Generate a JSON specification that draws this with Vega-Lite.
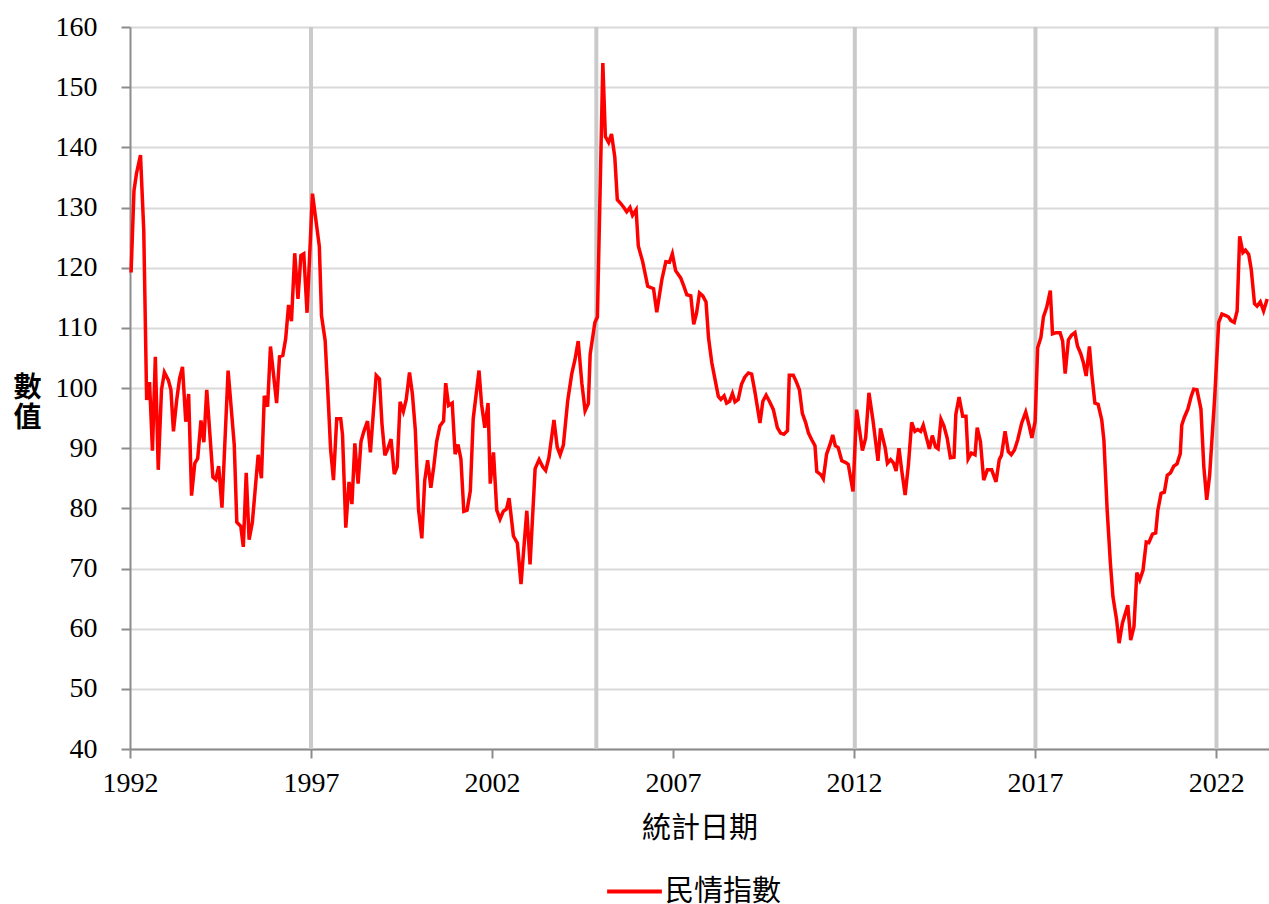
{
"$schema": "https://vega.github.io/schema/vega-lite/v6.json",
"width": 1139,
"height": 722,
"autosize": {"type": "none"},
"padding": {"left": 130, "top": 27, "right": 0, "bottom": 155},
"background": "white",
"config": {"view": {"stroke": null}},
"datasets": {
"events": [{"t": 1997.0}, {"t": 2004.88}, {"t": 2012.02}, {"t": 2017.01}, {"t": 2022.01}],
"psi": [
{"t":1992.03,"v":119.2},{"t":1992.11,"v":132.8},{"t":1992.18,"v":135.7},{"t":1992.29,"v":138.7},{"t":1992.38,"v":126.2},{"t":1992.46,"v":98.0},{"t":1992.54,"v":101.0},{"t":1992.62,"v":89.6},{"t":1992.70,"v":105.2},{"t":1992.78,"v":86.4},{"t":1992.87,"v":99.7},{"t":1992.95,"v":102.6},
{"t":1993.06,"v":101.3},{"t":1993.13,"v":99.7},{"t":1993.20,"v":92.8},{"t":1993.29,"v":98.0},{"t":1993.37,"v":101.6},{"t":1993.45,"v":103.5},{"t":1993.54,"v":94.4},{"t":1993.62,"v":99.0},{"t":1993.70,"v":82.1},{"t":1993.79,"v":87.5},{"t":1993.87,"v":88.3},{"t":1993.96,"v":94.6},
{"t":1994.04,"v":91.0},{"t":1994.12,"v":99.7},{"t":1994.29,"v":85.2},{"t":1994.37,"v":84.8},{"t":1994.45,"v":87.0},{"t":1994.54,"v":80.1},{"t":1994.71,"v":102.9},{"t":1994.88,"v":90.5},{"t":1994.95,"v":77.7},
{"t":1995.06,"v":77.0},{"t":1995.13,"v":73.6},{"t":1995.21,"v":85.9},{"t":1995.29,"v":74.8},{"t":1995.38,"v":77.7},{"t":1995.54,"v":88.9},{"t":1995.63,"v":85.0},{"t":1995.71,"v":98.7},{"t":1995.80,"v":96.9},{"t":1995.88,"v":106.9},
{"t":1996.05,"v":97.5},{"t":1996.13,"v":105.2},{"t":1996.22,"v":105.4},{"t":1996.30,"v":108.2},{"t":1996.38,"v":113.8},{"t":1996.46,"v":111.1},{"t":1996.55,"v":122.4},{"t":1996.64,"v":114.8},{"t":1996.72,"v":122.0},{"t":1996.80,"v":122.3},{"t":1996.89,"v":112.5},
{"t":1997.04,"v":132.3},{"t":1997.23,"v":123.5},{"t":1997.29,"v":112.0},{"t":1997.39,"v":107.9},{"t":1997.48,"v":97.5},{"t":1997.54,"v":89.9},{"t":1997.62,"v":84.7},{"t":1997.71,"v":94.9},{"t":1997.82,"v":94.9},{"t":1997.87,"v":92.2},{"t":1997.96,"v":76.8},
{"t":1998.05,"v":84.4},{"t":1998.13,"v":80.7},{"t":1998.21,"v":90.8},{"t":1998.30,"v":84.1},{"t":1998.38,"v":91.1},{"t":1998.46,"v":92.8},{"t":1998.56,"v":94.5},{"t":1998.64,"v":89.3},{"t":1998.72,"v":95.8},{"t":1998.80,"v":102.1},{"t":1998.89,"v":101.5},{"t":1998.96,"v":94.0},
{"t":1999.04,"v":88.8},{"t":1999.12,"v":89.9},{"t":1999.21,"v":91.5},{"t":1999.30,"v":85.7},{"t":1999.38,"v":86.9},{"t":1999.46,"v":97.7},{"t":1999.55,"v":96.1},{"t":1999.63,"v":98.1},{"t":1999.72,"v":102.6},{"t":1999.80,"v":99.0},{"t":1999.88,"v":93.1},{"t":1999.97,"v":79.8},
{"t":2000.06,"v":75.0},{"t":2000.14,"v":84.6},{"t":2000.22,"v":88.0},{"t":2000.31,"v":83.4},{"t":2000.39,"v":86.9},{"t":2000.47,"v":91.1},{"t":2000.56,"v":93.7},{"t":2000.66,"v":94.5},{"t":2000.72,"v":100.8},{"t":2000.80,"v":97.1},{"t":2000.90,"v":97.5},{"t":2000.98,"v":89.0},
{"t":2001.06,"v":90.6},{"t":2001.14,"v":88.2},{"t":2001.22,"v":79.5},{"t":2001.31,"v":79.7},{"t":2001.40,"v":82.9},{"t":2001.48,"v":94.9},{"t":2001.64,"v":102.9},{"t":2001.71,"v":97.3},{"t":2001.80,"v":93.4},{"t":2001.89,"v":97.5},{"t":2001.95,"v":84.1},
{"t":2002.04,"v":89.3},{"t":2002.13,"v":79.7},{"t":2002.22,"v":78.2},{"t":2002.31,"v":79.5},{"t":2002.40,"v":79.9},{"t":2002.47,"v":81.7},{"t":2002.59,"v":75.4},{"t":2002.70,"v":74.2},{"t":2002.80,"v":67.4},{"t":2002.96,"v":79.6},
{"t":2003.05,"v":70.7},{"t":2003.19,"v":86.6},{"t":2003.30,"v":88.1},{"t":2003.40,"v":86.9},{"t":2003.48,"v":86.3},{"t":2003.57,"v":88.4},{"t":2003.71,"v":94.7},{"t":2003.80,"v":90.2},{"t":2003.88,"v":88.9},{"t":2003.97,"v":90.5},
{"t":2004.09,"v":97.9},{"t":2004.20,"v":102.3},{"t":2004.29,"v":104.7},{"t":2004.38,"v":107.8},{"t":2004.48,"v":100.8},{"t":2004.57,"v":96.2},{"t":2004.66,"v":97.4},{"t":2004.71,"v":105.6},{"t":2004.84,"v":110.9},{"t":2004.91,"v":111.8},
{"t":2005.06,"v":154.0},{"t":2005.13,"v":141.8},{"t":2005.22,"v":140.8},{"t":2005.30,"v":142.2},{"t":2005.39,"v":138.4},{"t":2005.46,"v":131.3},{"t":2005.55,"v":130.7},{"t":2005.64,"v":130.0},{"t":2005.72,"v":129.3},{"t":2005.81,"v":130.0},{"t":2005.88,"v":128.7},{"t":2005.98,"v":129.6},
{"t":2006.04,"v":123.6},{"t":2006.16,"v":121.0},{"t":2006.30,"v":116.9},{"t":2006.46,"v":116.5},{"t":2006.55,"v":112.6},{"t":2006.69,"v":118.0},{"t":2006.80,"v":121.0},{"t":2006.90,"v":120.9},{"t":2006.98,"v":122.3},
{"t":2007.07,"v":119.5},{"t":2007.21,"v":118.3},{"t":2007.30,"v":116.9},{"t":2007.38,"v":115.5},{"t":2007.49,"v":115.3},{"t":2007.57,"v":110.6},{"t":2007.65,"v":112.5},{"t":2007.73,"v":115.8},{"t":2007.82,"v":115.3},{"t":2007.91,"v":114.3},{"t":2007.98,"v":108.3},
{"t":2008.07,"v":104.2},{"t":2008.16,"v":101.4},{"t":2008.25,"v":98.6},{"t":2008.32,"v":98.1},{"t":2008.41,"v":98.7},{"t":2008.48,"v":97.5},{"t":2008.56,"v":97.8},{"t":2008.64,"v":99.1},{"t":2008.71,"v":97.7},{"t":2008.80,"v":98.1},{"t":2008.89,"v":100.6},{"t":2008.98,"v":101.8},
{"t":2009.08,"v":102.5},{"t":2009.17,"v":102.3},{"t":2009.26,"v":99.4},{"t":2009.40,"v":94.2},{"t":2009.48,"v":97.8},{"t":2009.57,"v":98.8},{"t":2009.66,"v":97.8},{"t":2009.77,"v":96.4},{"t":2009.88,"v":93.4},{"t":2009.97,"v":92.5},
{"t":2010.06,"v":92.3},{"t":2010.16,"v":92.9},{"t":2010.21,"v":102.1},{"t":2010.32,"v":102.1},{"t":2010.40,"v":101.1},{"t":2010.49,"v":99.7},{"t":2010.57,"v":95.8},{"t":2010.66,"v":94.3},{"t":2010.74,"v":92.5},{"t":2010.83,"v":91.4},{"t":2010.92,"v":90.4},{"t":2010.97,"v":86.1},
{"t":2011.08,"v":85.6},{"t":2011.15,"v":84.9},{"t":2011.24,"v":89.0},{"t":2011.34,"v":90.7},{"t":2011.41,"v":92.2},{"t":2011.48,"v":90.4},{"t":2011.56,"v":90.1},{"t":2011.66,"v":87.9},{"t":2011.77,"v":87.6},{"t":2011.84,"v":87.3},{"t":2011.97,"v":82.8},
{"t":2012.07,"v":96.4},{"t":2012.23,"v":89.6},{"t":2012.32,"v":91.7},{"t":2012.41,"v":99.2},{"t":2012.52,"v":94.7},{"t":2012.66,"v":87.9},{"t":2012.73,"v":93.3},{"t":2012.86,"v":90.0},{"t":2012.92,"v":87.5},
{"t":2013.01,"v":88.1},{"t":2013.09,"v":87.5},{"t":2013.16,"v":86.2},{"t":2013.24,"v":90.0},{"t":2013.32,"v":86.1},{"t":2013.41,"v":82.2},{"t":2013.50,"v":87.2},{"t":2013.59,"v":94.3},{"t":2013.68,"v":92.8},{"t":2013.76,"v":93.1},{"t":2013.84,"v":92.8},{"t":2013.91,"v":93.8},
{"t":2014.00,"v":91.7},{"t":2014.08,"v":89.9},{"t":2014.16,"v":92.1},{"t":2014.25,"v":90.2},{"t":2014.32,"v":89.9},{"t":2014.40,"v":94.8},{"t":2014.48,"v":93.7},{"t":2014.57,"v":91.7},{"t":2014.66,"v":88.4},{"t":2014.76,"v":88.5},{"t":2014.81,"v":95.6},{"t":2014.90,"v":98.5},
{"t":2015.00,"v":95.3},{"t":2015.09,"v":95.3},{"t":2015.15,"v":88.2},{"t":2015.24,"v":89.2},{"t":2015.34,"v":88.9},{"t":2015.40,"v":93.4},{"t":2015.49,"v":91.1},{"t":2015.58,"v":84.7},{"t":2015.68,"v":86.4},{"t":2015.80,"v":86.4},{"t":2015.92,"v":84.4},
{"t":2016.01,"v":88.1},{"t":2016.07,"v":88.8},{"t":2016.17,"v":92.8},{"t":2016.26,"v":89.4},{"t":2016.34,"v":88.9},{"t":2016.43,"v":89.7},{"t":2016.52,"v":91.4},{"t":2016.63,"v":94.2},{"t":2016.74,"v":96.0},{"t":2016.83,"v":93.9},{"t":2016.91,"v":91.7},
{"t":2017.00,"v":94.4},{"t":2017.07,"v":106.7},{"t":2017.16,"v":108.4},{"t":2017.23,"v":111.8},{"t":2017.32,"v":113.4},{"t":2017.42,"v":116.2},{"t":2017.48,"v":109.0},{"t":2017.58,"v":109.2},{"t":2017.69,"v":109.2},{"t":2017.76,"v":107.8},{"t":2017.83,"v":102.4},{"t":2017.92,"v":108.0},
{"t":2018.01,"v":108.8},{"t":2018.10,"v":109.2},{"t":2018.17,"v":107.0},{"t":2018.26,"v":105.7},{"t":2018.33,"v":104.3},{"t":2018.41,"v":102.0},{"t":2018.50,"v":106.9},{"t":2018.56,"v":102.6},{"t":2018.65,"v":97.5},{"t":2018.74,"v":97.3},{"t":2018.84,"v":94.7},{"t":2018.90,"v":91.3},{"t":2018.99,"v":79.7},
{"t":2019.08,"v":70.8},{"t":2019.15,"v":65.3},{"t":2019.25,"v":61.5},{"t":2019.32,"v":57.6},{"t":2019.41,"v":60.9},{"t":2019.56,"v":63.9},{"t":2019.64,"v":58.1},{"t":2019.73,"v":60.3},{"t":2019.81,"v":69.3},{"t":2019.89,"v":68.1},{"t":2019.98,"v":69.7},
{"t":2020.07,"v":74.4},{"t":2020.14,"v":74.3},{"t":2020.24,"v":75.7},{"t":2020.33,"v":75.9},{"t":2020.39,"v":79.7},{"t":2020.48,"v":82.5},{"t":2020.57,"v":82.7},{"t":2020.65,"v":85.5},{"t":2020.74,"v":85.9},{"t":2020.83,"v":87.0},{"t":2020.92,"v":87.4},
{"t":2021.01,"v":89.1},{"t":2021.05,"v":93.8},{"t":2021.12,"v":95.1},{"t":2021.22,"v":96.5},{"t":2021.31,"v":98.6},{"t":2021.38,"v":99.8},{"t":2021.47,"v":99.7},{"t":2021.58,"v":96.5},{"t":2021.66,"v":86.9},{"t":2021.74,"v":81.4},{"t":2021.82,"v":85.5},{"t":2021.96,"v":98.5},
{"t":2022.07,"v":110.9},{"t":2022.16,"v":112.3},{"t":2022.28,"v":112.0},{"t":2022.34,"v":111.8},{"t":2022.41,"v":111.2},{"t":2022.50,"v":110.9},{"t":2022.58,"v":112.8},{"t":2022.65,"v":125.2},{"t":2022.74,"v":122.5},{"t":2022.81,"v":122.9},{"t":2022.90,"v":122.2},{"t":2022.97,"v":119.7},
{"t":2023.06,"v":114.0},{"t":2023.13,"v":113.6},{"t":2023.22,"v":114.3},{"t":2023.31,"v":112.8},{"t":2023.41,"v":114.8}
]
},
"layer": [
{
"data": {"name": "events"},
"mark": {"type": "rule", "color": "#cacaca", "strokeWidth": 4},
"encoding": {
"x": {"field": "t", "type": "quantitative", "scale": {"domain": [1992, 2023.46], "nice": false, "zero": false},
"axis": {"values": [1992, 1997, 2002, 2007, 2012, 2017, 2022], "format": "d", "grid": false, "labelFlush": false,
"domainColor": "#8c8c8c", "domainWidth": 2, "tickColor": "#8c8c8c", "tickWidth": 2, "tickSize": 9,
"labelFont": "Liberation Serif", "labelFontSize": 28, "labelColor": "#000000", "labelPadding": 11,
"title": "統計日期", "titleFont": "Noto Sans CJK TC", "titleFontSize": 29, "titleFontWeight": "normal", "titleColor": "#000000", "titlePadding": 17}}
}
},
{
"data": {"name": "psi"},
"mark": {"type": "line", "strokeWidth": 3.5},
"encoding": {
"x": {"field": "t", "type": "quantitative", "scale": {"domain": [1992, 2023.46], "nice": false, "zero": false},
"axis": {"values": [1992, 1997, 2002, 2007, 2012, 2017, 2022], "format": "d", "grid": false, "labelFlush": false,
"domainColor": "#8c8c8c", "domainWidth": 2, "tickColor": "#8c8c8c", "tickWidth": 2, "tickSize": 9,
"labelFont": "Liberation Serif", "labelFontSize": 28, "labelColor": "#000000", "labelPadding": 11,
"title": "統計日期", "titleFont": "Noto Sans CJK TC", "titleFontSize": 29, "titleFontWeight": "normal", "titleColor": "#000000", "titlePadding": 17}},
"y": {"field": "v", "type": "quantitative", "scale": {"domain": [40, 160], "nice": false, "zero": false},
"axis": {"values": [40, 50, 60, 70, 80, 90, 100, 110, 120, 130, 140, 150, 160], "grid": true, "gridColor": "#d9d9d9", "gridWidth": 2,
"domainColor": "#8c8c8c", "domainWidth": 2, "tickColor": "#8c8c8c", "tickWidth": 2, "tickSize": 9,
"labelFont": "Liberation Serif", "labelFontSize": 28, "labelColor": "#000000", "labelPadding": 24,
"title": ["數", "值"], "titleAngle": 0, "titleAlign": "center", "titleBaseline": "middle", "titleLineHeight": 30,
"titleX": -103, "titleY": 361,
"titleFont": "Noto Sans CJK TC", "titleFontSize": 28, "titleFontWeight": "bold", "titleColor": "#000000"}},
"color": {"datum": "民情指數", "type": "nominal", "scale": {"range": ["#ff0000"]},
"legend": {"title": null, "orient": "none", "legendX": 475, "legendY": 835, "symbolType": "stroke", "symbolStrokeWidth": 4, "symbolSize": 3000, "labelOffset": 1,
"labelFont": "Noto Sans CJK TC", "labelFontSize": 29, "labelColor": "#000000"}}
}
}
]
}
